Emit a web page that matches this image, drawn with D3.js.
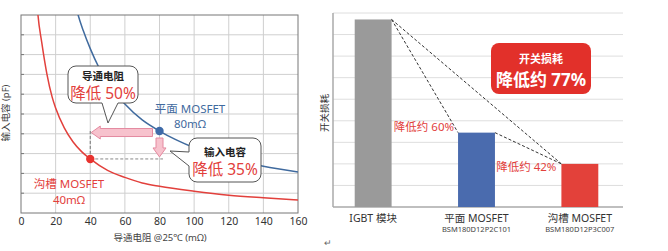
<!DOCTYPE html>
<html><head><meta charset="utf-8">
<script src="https://cdn.jsdelivr.net/npm/d3@7"></script>
<style>
html,body{margin:0;padding:0;background:#fff;}
svg{display:block;font-family:"Noto Sans","Noto Sans CJK SC",sans-serif;}
</style></head>
<body>
<svg id="c" width="668" height="251"></svg>
<script>
// ---------- data: left chart (input capacitance vs on-resistance) ----------
const xTicksL = [0,20,40,60,80,100,120,140,160];
const planarCurve = [[31,10.7],[33,10],[36,9.2],[40,8.3],[45,7.35],[50,6.6],[60,5.5],[70,4.7],[80,4.14],[90,3.68],[100,3.3],[110,3.0],[120,2.75],[140,2.36],[160,2.07]];
const trenchCurve = [[9,10.9],[9.8,10],[12,8.6],[15,7.0],[18,5.85],[20,5.3],[25,4.3],[30,3.6],[35,3.1],[40,2.73],[50,2.15],[60,1.8],[70,1.52],[80,1.35],[100,1.1],[120,0.9],[140,0.77],[160,0.66]];
const planarPoint = [80,4.14];
const trenchPoint = [40,2.73];
// ---------- data: right chart (switching loss) ----------
const categories = ["IGBT 模块","平面 MOSFET","沟槽 MOSFET"];
const subLabels = ["","BSM180D12P2C101","BSM180D12P3C007"];
const lossValues = [8.7,3.45,2.0];
const barColors = ["#9a9a9a","#4a6bae","#e3413a"];

const svg = d3.select("#c");
const red = "#e2403c", blue = "#3f6a9e";

// ================= LEFT CHART =================
const xL = d3.scaleLinear([0,160],[21,298]);
const yL = d3.scaleLinear([0,10],[213,15]);
const gL = svg.append("g");
gL.append("g").selectAll("line").data(d3.range(20,160,20)).join("line")
  .attr("x1",d=>xL(d)).attr("x2",d=>xL(d)).attr("y1",yL(0)).attr("y2",yL(10))
  .attr("stroke","#cfcfcf").attr("stroke-width",1);
gL.append("g").selectAll("line").data(d3.range(1,10)).join("line")
  .attr("x1",xL(0)).attr("x2",xL(160)).attr("y1",d=>yL(d)).attr("y2",d=>yL(d))
  .attr("stroke","#cfcfcf").attr("stroke-width",1);
gL.append("g").selectAll("line").data(d3.range(1,10)).join("line")
  .attr("x1",xL(0)).attr("x2",xL(0)+3).attr("y1",d=>yL(d)).attr("y2",d=>yL(d))
  .attr("stroke","#777");
gL.append("rect").attr("x",xL(0)).attr("y",yL(10)).attr("width",xL(160)-xL(0)).attr("height",yL(0)-yL(10))
  .attr("fill","none").attr("stroke","#777").attr("stroke-width",1);
const axL = gL.append("g").attr("transform",`translate(0,${yL(0)})`)
  .call(d3.axisBottom(xL).tickValues(xTicksL).tickSize(0).tickPadding(5));
axL.select(".domain").remove();
axL.selectAll("text").attr("font-size",10.5).attr("fill","#333").attr("font-family","'Noto Sans','Noto Sans CJK SC',sans-serif");
gL.append("text").attr("x",160).attr("y",241).attr("text-anchor","middle").attr("font-size",9.5).attr("fill","#444")
  .text("导通电阻 @25℃ (mΩ)");
gL.append("text").attr("transform",`translate(9,113) rotate(-90)`).attr("text-anchor","middle").attr("font-size",9.5).attr("fill","#444")
  .text("输入电容 (pF)");

svg.append("defs").append("clipPath").attr("id","clipL").append("rect")
  .attr("x",xL(0)).attr("y",yL(10)).attr("width",xL(160)-xL(0)).attr("height",yL(0)-yL(10));
const line = d3.line().x(d=>xL(d[0])).y(d=>yL(d[1])).curve(d3.curveMonotoneX);
const gC = gL.append("g").attr("clip-path","url(#clipL)");
gC.append("path").attr("d",line(planarCurve)).attr("fill","none").attr("stroke",blue).attr("stroke-width",1.5);
gC.append("path").attr("d",line(trenchCurve)).attr("fill","none").attr("stroke",red).attr("stroke-width",1.5);

gL.append("line").attr("x1",xL(trenchPoint[0])).attr("x2",xL(trenchPoint[0])).attr("y1",yL(trenchPoint[1])).attr("y2",yL(planarPoint[1]))
  .attr("stroke","#777").attr("stroke-dasharray","3,2");
gL.append("line").attr("x1",xL(trenchPoint[0])).attr("x2",xL(82)).attr("y1",yL(trenchPoint[1])).attr("y2",yL(trenchPoint[1]))
  .attr("stroke","#888").attr("stroke-dasharray","3,2");

const pinkF="#f7c2cd", pinkS="#e48aa0";
(function(){
  const xs = xL(planarPoint[0])-7, xt = xL(trenchPoint[0])+1, yc = yL(planarPoint[1])+1.5;
  const hb = 4, hh = 6.5, hl = 9;
  const p = `M${xs},${yc-hb} L${xt+hl},${yc-hb} L${xt+hl},${yc-hh} L${xt},${yc} L${xt+hl},${yc+hh} L${xt+hl},${yc+hb} L${xs},${yc+hb} Z`;
  gL.append("path").attr("d",p).attr("fill",pinkF).attr("stroke",pinkS).attr("stroke-width",1);
  const xc = xL(planarPoint[0]), ys = yL(planarPoint[1])+7, ye = yL(trenchPoint[1])-2;
  const bw = 3.5, hw = 6.5, hL = 9;
  const q = `M${xc-bw},${ys} L${xc+bw},${ys} L${xc+bw},${ye-hL} L${xc+hw},${ye-hL} L${xc},${ye} L${xc-hw},${ye-hL} L${xc-bw},${ye-hL} Z`;
  gL.append("path").attr("d",q).attr("fill",pinkF).attr("stroke",pinkS).attr("stroke-width",1);
})();

gL.append("circle").attr("cx",xL(planarPoint[0])).attr("cy",yL(planarPoint[1])).attr("r",4.2).attr("fill","#3e6aa8");
gL.append("circle").attr("cx",xL(trenchPoint[0])).attr("cy",yL(trenchPoint[1])).attr("r",4.2).attr("fill","#e8332f");

gL.append("text").attr("x",190).attr("y",113).attr("text-anchor","middle").attr("font-size",11.5).attr("fill",blue).text("平面 MOSFET");
gL.append("text").attr("x",190).attr("y",128).attr("text-anchor","middle").attr("font-size",11.5).attr("fill",blue).text("80mΩ");
gL.append("text").attr("x",69).attr("y",188).attr("text-anchor","middle").attr("font-size",11.5).attr("fill",red).text("沟槽 MOSFET");
gL.append("text").attr("x",69).attr("y",204).attr("text-anchor","middle").attr("font-size",11.5).attr("fill",red).text("40mΩ");

function calloutBottom(x0,y0,x1,y1,r,ta,tb,tx,ty){
  return `M${x0+r},${y0} L${x1-r},${y0} A${r},${r} 0 0 1 ${x1},${y0+r} L${x1},${y1-r} A${r},${r} 0 0 1 ${x1-r},${y1} L${tb},${y1} L${tx},${ty} L${ta},${y1} L${x0+r},${y1} A${r},${r} 0 0 1 ${x0},${y1-r} L${x0},${y0+r} A${r},${r} 0 0 1 ${x0+r},${y0} Z`;
}
function calloutLeft(x0,y0,x1,y1,r,ta,tb,tx,ty){
  return `M${x0+r},${y0} L${x1-r},${y0} A${r},${r} 0 0 1 ${x1},${y0+r} L${x1},${y1-r} A${r},${r} 0 0 1 ${x1-r},${y1} L${x0+r},${y1} A${r},${r} 0 0 1 ${x0},${y1-r} L${x0},${tb} L${tx},${ty} L${x0},${ta} L${x0},${y0+r} A${r},${r} 0 0 1 ${x0+r},${y0} Z`;
}
gL.append("path").attr("d",calloutBottom(68,66,138,103,8,102,118,108,123)).attr("fill","#fff").attr("stroke","#555").attr("stroke-width",1);
gL.append("text").attr("x",103).attr("y",80).attr("text-anchor","middle").attr("font-size",10.5).attr("font-weight","bold").attr("fill","#222").text("导通电阻");
gL.append("text").attr("x",103).attr("y",99).attr("text-anchor","middle").attr("font-size",15.5).attr("fill",red).text("降低 50%");
gL.append("path").attr("d",calloutLeft(189,138,261,182,8,152,166,170,151)).attr("fill","#fff").attr("stroke","#555").attr("stroke-width",1);
gL.append("text").attr("x",225).attr("y",156).attr("text-anchor","middle").attr("font-size",10.5).attr("font-weight","bold").attr("fill","#222").text("输入电容");
gL.append("text").attr("x",225).attr("y",175).attr("text-anchor","middle").attr("font-size",15.5).attr("fill",red).text("降低 35%");

// ================= RIGHT CHART =================
const xR = d3.scaleBand().domain(categories).range([333,620]).paddingInner(0.643).paddingOuter(0.21);
const yR = d3.scaleLinear([0,9],[207,13]);
const gR = svg.append("g");
gR.append("g").selectAll("line").data(d3.range(1,10)).join("line")
  .attr("x1",333).attr("x2",623).attr("y1",d=>yR(d)).attr("y2",d=>yR(d))
  .attr("stroke","#dedede").attr("stroke-width",1);
gR.append("line").attr("x1",333).attr("x2",333).attr("y1",yR(9)).attr("y2",yR(0)).attr("stroke","#aaa").attr("stroke-width",1.5);
gR.append("line").attr("x1",333).attr("x2",623).attr("y1",yR(0)).attr("y2",yR(0)).attr("stroke","#aaa").attr("stroke-width",1.5);
gR.selectAll("rect.bar").data(lossValues).join("rect").attr("class","bar")
  .attr("x",(d,i)=>xR(categories[i])).attr("width",xR.bandwidth())
  .attr("y",d=>yR(d)).attr("height",d=>yR(0)-yR(d)).attr("fill",(d,i)=>barColors[i]);
const tr = i=>[xR(categories[i])+xR.bandwidth(), yR(lossValues[i])];
const tl = i=>[xR(categories[i]), yR(lossValues[i])];
[[tr(0),tl(1)],[tr(0),tl(2)],[tr(1),tl(2)]].forEach(([a,b])=>{
  gR.append("line").attr("x1",a[0]).attr("y1",a[1]).attr("x2",b[0]).attr("y2",b[1])
    .attr("stroke","#333").attr("stroke-width",1).attr("stroke-dasharray","3,2");
});
gR.append("text").attr("x",xR(categories[1])-4).attr("y",yR(lossValues[1])-2).attr("text-anchor","end").attr("font-size",11.5).attr("fill",red).text("降低约 60%");
gR.append("text").attr("x",xR(categories[2])-5).attr("y",yR(lossValues[2])+7).attr("text-anchor","end").attr("font-size",11.5).attr("fill",red).text("降低约 42%");
gR.append("rect").attr("x",491).attr("y",43).attr("width",100).attr("height",51).attr("rx",8).attr("fill","#e2302a");
gR.append("text").attr("x",541).attr("y",63).attr("text-anchor","middle").attr("font-size",11).attr("font-weight","bold").attr("fill","#fff").text("开关损耗");
gR.append("text").attr("x",541).attr("y",86).attr("text-anchor","middle").attr("font-size",17).attr("font-weight","bold").attr("fill","#fff").text("降低约 77%");
gR.selectAll("text.cat").data(categories).join("text").attr("class","cat")
  .attr("x",d=>xR(d)+xR.bandwidth()/2).attr("y",222).attr("text-anchor","middle").attr("font-size",10.5).attr("fill","#333").text(d=>d);
gR.selectAll("text.sub").data(subLabels).join("text").attr("class","sub")
  .attr("x",(d,i)=>xR(categories[i])+xR.bandwidth()/2).attr("y",232).attr("text-anchor","middle").attr("font-size",7.5).attr("fill","#444").text(d=>d);
gR.append("text").attr("transform",`translate(328,113) rotate(-90)`).attr("text-anchor","middle").attr("font-size",9.5).attr("fill","#333").text("开关损耗");
gR.append("text").attr("x",324).attr("y",246).attr("font-size",9).attr("fill","#666").text("↵");
</script>
</body></html>
